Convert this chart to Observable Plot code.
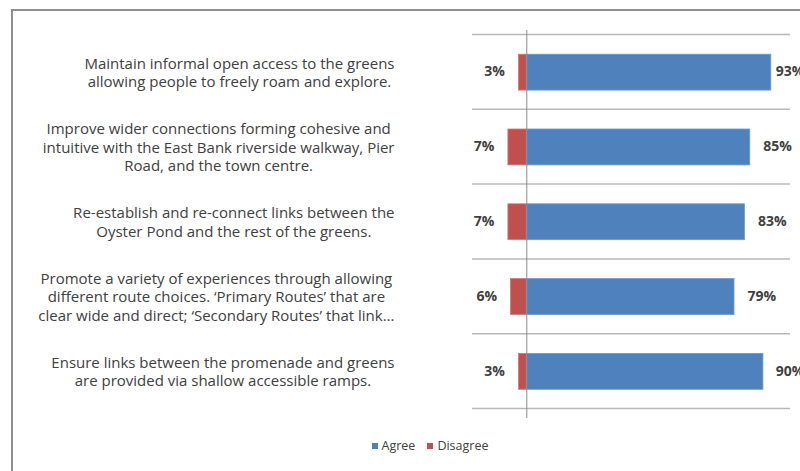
<!DOCTYPE html>
<html>
<head>
<meta charset="utf-8">
<script src="https://cdn.jsdelivr.net/npm/d3@7"></script>
<script src="https://cdn.jsdelivr.net/npm/@observablehq/plot@0.6"></script>
<style>
  html, body { margin: 0; padding: 0; background: #fff; }
  body { width: 800px; height: 471px; overflow: hidden; position: relative; font-family: "Open Sans", sans-serif; }
  #frame { position: absolute; left: 11px; top: 9px; width: 820px; height: 500px;
           border-left: 2px solid #8f8f8f; border-top: 2px solid #8f8f8f; box-sizing: border-box; }
  #chart { position: absolute; left: 0; top: 0; }
  #legend { position: absolute; top: 437px; left: 0; width: 860px; text-align: center;
            font-size: 12.5px; color: #404040; font-family: "Open Sans", sans-serif; }
  #legend span.sw { display: inline-block; width: 6px; height: 6px; margin-right: 4px; vertical-align: 1px; }
  #legend span.item { margin: 0 6px; }
</style>
</head>
<body>
<div id="frame"></div>
<div id="chart"></div>
<div id="legend"></div>
<script>
const categories = [
  "Maintain informal open access to the greens\nallowing people to freely roam and explore.",
  "Improve wider connections forming cohesive and\nintuitive with the East Bank riverside walkway, Pier\nRoad, and the town centre.",
  "Re-establish and re-connect links between the\nOyster Pond and the rest of the greens.",
  "Promote a variety of experiences through allowing\ndifferent route choices. \u2018Primary Routes\u2019 that are\nclear wide and direct; \u2018Secondary Routes\u2019 that link...",
  "Ensure links between the promenade and greens\nare provided via shallow accessible ramps."
];
const agree = [93, 85, 83, 79, 90];
const disagree = [3, 7, 7, 6, 3];
const seriesNames = ["Agree", "Disagree"];
const seriesColors = ["#4F81BD", "#C0504D"];

const rows = categories.map((c, i) => ({i, label: c, agree: agree[i], disagree: disagree[i]}));
const bounds = d3.range(categories.length + 1);

const labelFont = 15;
const labelFamily = "'Open Sans', sans-serif";
const ctx = document.createElement("canvas").getContext("2d");
ctx.font = `${labelFont}px ${labelFamily}`;
const widest = s => d3.max(s.split("\n"), l => ctx.measureText(l).width);

const textColor = "#404040";
// value labels sit outside the bar end, but are pushed back inside the plot edge (as Excel does)
const labelGap = 4.9, labelMax = 94.7;

const labelMarks = rows.map(r => Plot.text([r], {
  y: d => d.i + 0.5,
  frameAnchor: "left",
  text: "label",
  textAnchor: "middle",
  lineAnchor: "middle",
  lineHeight: 1.25,
  dx: -(78 + widest(r.label) / 2),
  fontSize: labelFont,
  fontFamily: labelFamily,
  fill: textColor
}));

const chart = Plot.plot({
  width: 800,
  height: 425,
  marginTop: 34,
  marginBottom: 17,
  marginLeft: 472,
  marginRight: 10,
  x: {domain: [-20.65, 100.3], axis: null},
  y: {domain: [0, categories.length], reverse: true, axis: null},
  style: {fontFamily: labelFamily, background: "transparent"},
  marks: [
    Plot.ruleY(bounds, {y: d => d, stroke: "#b8b8b8", strokeWidth: 1.5}),
    Plot.rectX(rows, {x1: 0, x2: "agree", y1: d => d.i + 0.27, y2: d => d.i + 0.75,
                      fill: seriesColors[0], stroke: "#6f9ad0", strokeWidth: 0.8}),
    Plot.rectX(rows, {x1: 0, x2: d => -d.disagree, y1: d => d.i + 0.27, y2: d => d.i + 0.75,
                      fill: seriesColors[1], stroke: "#d37a78", strokeWidth: 0.8}),
    Plot.ruleX([0], {y1: 0, y2: categories.length, stroke: "#8a8a8a", strokeWidth: 1, insetBottom: -10, insetTop: -4}),
    Plot.text(rows, {x: d => Math.min(d.agree + labelGap, labelMax), y: d => d.i + 0.5, text: d => d.agree + "%",
                     textAnchor: "start", fontWeight: "bold", fontSize: 14, fill: textColor}),
    Plot.text(rows, {x: d => -d.disagree, y: d => d.i + 0.5, text: d => d.disagree + "%", textAnchor: "end", dx: -14,
                     fontWeight: "bold", fontSize: 14, fill: textColor}),
    ...labelMarks
  ]
});
document.getElementById("chart").appendChild(chart);

const legend = document.getElementById("legend");
seriesNames.forEach((n, k) => {
  const item = document.createElement("span");
  item.className = "item";
  const sw = document.createElement("span");
  sw.className = "sw";
  sw.style.background = seriesColors[k];
  item.appendChild(sw);
  item.appendChild(document.createTextNode(n));
  legend.appendChild(item);
});
</script>
</body>
</html>
